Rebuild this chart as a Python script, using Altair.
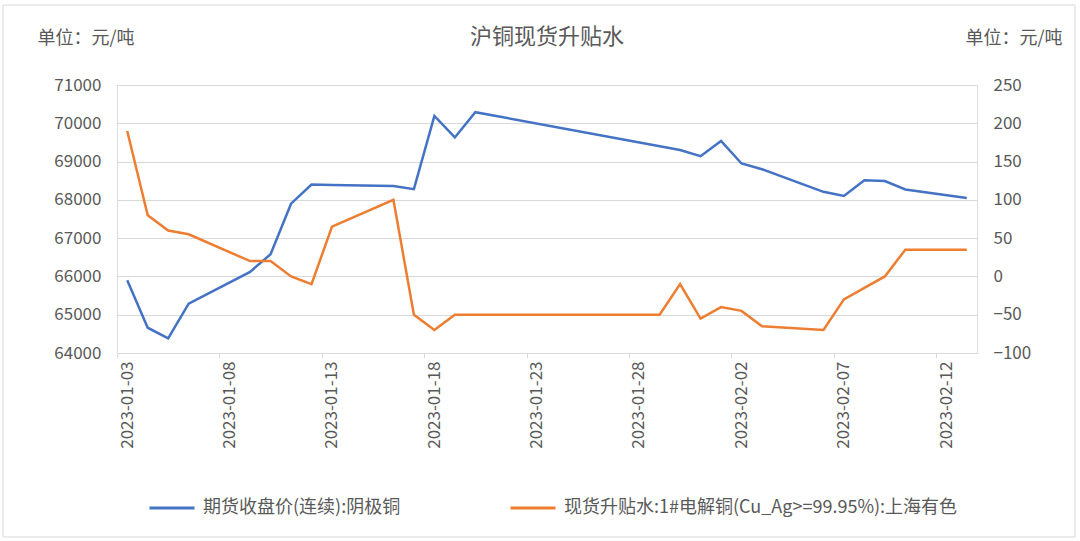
import altair as alt
import pandas as pd

# ---- data ----
futures_dates = ["2023-01-03", "2023-01-04", "2023-01-05", "2023-01-06", "2023-01-09",
                 "2023-01-10", "2023-01-11", "2023-01-12", "2023-01-13", "2023-01-16",
                 "2023-01-17", "2023-01-18", "2023-01-19", "2023-01-20", "2023-01-30",
                 "2023-01-31", "2023-02-01", "2023-02-02", "2023-02-03", "2023-02-06",
                 "2023-02-07", "2023-02-08", "2023-02-09", "2023-02-10", "2023-02-13"]
futures_price = [65900, 64660, 64380, 65290, 66120, 66580, 67900, 68400, 68390, 68360,
                 68280, 70190, 69630, 70290, 69300, 69140, 69540, 68950, 68800, 68210,
                 68100, 68510, 68490, 68270, 68050]

spot_dates = ["2023-01-03", "2023-01-04", "2023-01-05", "2023-01-06", "2023-01-09",
              "2023-01-10", "2023-01-11", "2023-01-12", "2023-01-13", "2023-01-16",
              "2023-01-17", "2023-01-18", "2023-01-19", "2023-01-20", "2023-01-29",
              "2023-01-30", "2023-01-31", "2023-02-01", "2023-02-02", "2023-02-03",
              "2023-02-06", "2023-02-07", "2023-02-08", "2023-02-09", "2023-02-10",
              "2023-02-13"]
spot_premium = [190, 80, 60, 55, 20, 20, 0, -10, 65, 100, -50, -70, -50, -50, -50,
                -10, -55, -40, -45, -65, -70, -30, -15, 0, 35, 35]

series_names = ["期货收盘价(连续):阴极铜", "现货升贴水:1#电解铜(Cu_Ag>=99.95%):上海有色"]
series_colors = ["#4472C4", "#ED7D31"]
left_ticks = [64000, 65000, 66000, 67000, 68000, 69000, 70000, 71000]
right_ticks = [-100, -50, 0, 50, 100, 150, 200, 250]
title_text = "沪铜现货升贴水"
unit_text = "单位：元/吨"

df_f = pd.DataFrame({"date": [d + "T12:00:00Z" for d in futures_dates],
                     "value": futures_price, "series": series_names[0]})
df_s = pd.DataFrame({"date": [d + "T12:00:00Z" for d in spot_dates],
                     "value": spot_premium, "series": series_names[1]})

FONT = "Noto Sans CJK SC"
TXT = "#595959"
GRID = "#D9D9D9"

x_enc = alt.X(
    "date:T",
    scale=alt.Scale(type="utc",
                    domain=[alt.DateTime(year=2023, month=1, date=3, utc=True),
                            alt.DateTime(year=2023, month=2, date=14, utc=True)]),
    axis=alt.Axis(
        values=[alt.DateTime(year=2023, month=m, date=d, utc=True)
                for m, d in [(1, 3), (1, 8), (1, 13), (1, 18), (1, 23), (1, 28), (2, 2), (2, 7), (2, 12)]],
        format="%Y-%m-%d", labelAngle=270, labelFontSize=17, labelFont=FONT,
        labelColor=TXT, domainColor=GRID, tickColor=GRID, tickSize=5,
        labelPadding=3, labelOffset=10, grid=False, title=None),
)

color_enc = alt.Color(
    "series:N",
    scale=alt.Scale(domain=series_names, range=series_colors),
    legend=alt.Legend(orient="none", legendX=31, legendY=399, direction="horizontal",
                      title=None, symbolType="stroke", symbolSize=2025,
                      symbolStrokeWidth=3, labelFontSize=18, labelFont=FONT,
                      labelColor=TXT, labelLimit=1000, columnPadding=103,
                      labelOffset=7),
)

unit_style = dict(titleAngle=0, titleY=-47, titleAlign="left", titleBaseline="middle",
                  titleFontSize=18, titleFont=FONT, titleColor=TXT, titleFontWeight="normal")

left = alt.Chart(df_f).mark_line(strokeWidth=2.5).encode(
    x=x_enc,
    y=alt.Y("value:Q",
            scale=alt.Scale(domain=[64000, 71000], nice=False, zero=False),
            axis=alt.Axis(values=left_ticks, format="d", orient="left", domain=False,
                          ticks=False, gridColor=GRID, labelFontSize=17, labelFont=FONT,
                          labelColor=TXT, labelPadding=16, title=unit_text,
                          titleX=-80, **unit_style)),
    color=color_enc,
)

right = alt.Chart(df_s).mark_line(strokeWidth=2.5).encode(
    x=x_enc,
    y=alt.Y("value:Q",
            scale=alt.Scale(domain=[-100, 250], nice=False, zero=False),
            axis=alt.Axis(values=right_ticks, format="d", orient="right", domain=False,
                          ticks=False, grid=False, labelFontSize=17, labelFont=FONT,
                          labelColor=TXT, labelPadding=16, title=unit_text,
                          titleX=-12, **unit_style)),
    color=color_enc,
)

frame = alt.Chart(pd.DataFrame({"a": [0]})).mark_rect(
    fill=None, stroke=GRID, strokeWidth=1
).encode(x=alt.value(-114), x2=alt.value(958), y=alt.value(-80), y2=alt.value(452))

chart = alt.layer(frame, left, right).resolve_scale(y="independent").properties(
    width=860, height=268,
    title=alt.TitleParams(title_text, fontSize=22, font=FONT, color=TXT,
                          fontWeight="normal", anchor="middle", frame="group", offset=-44),
    autosize=alt.AutoSizeParams(type="none"),
    padding={"left": 117, "top": 85, "right": 103, "bottom": 188},
).configure_view(stroke=None).configure(background="white")

chart.save("out.html", embed_options={"renderer": "svg", "actions": False})
